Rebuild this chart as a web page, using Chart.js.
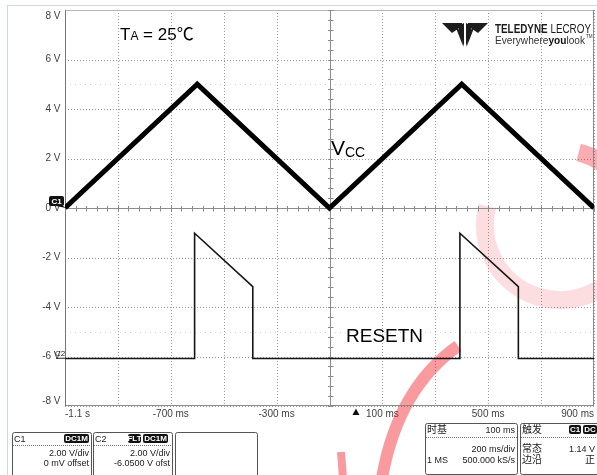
<!DOCTYPE html>
<html>
<head>
<meta charset="utf-8">
<title>VCC / RESETN</title>
<script src="https://cdn.jsdelivr.net/npm/chart.js@4.4.0/dist/chart.umd.min.js"></script>
<style>
  html, body { margin: 0; padding: 0; background: #fff; }
  #wrap { width: 597px; height: 475px; position: relative; }
</style>
</head>
<body>
<div id="wrap"><canvas id="scope" width="597" height="475"></canvas></div>
<script>
// Tempo em ms relativo ao trigger
const vccTime = [-1100, -600, -100, 400, 900];
const vccVolts = [0.0, 5.0, 0.0, 5.0, 0.0];

// RESETN (C2) como aparece na tela (offset -6.05 V ja aplicado)
const resetTime = [-1100, -610, -610, -390, -390, 393, 393, 614, 614, 900];
const resetVolts = [-6.08, -6.08, -1.02, -3.18, -6.08, -6.08, -1.02, -3.18, -6.08, -6.08];

const yTickVolts = [8, 6, 4, 2, 0, -2, -4, -6, -8];
const xLabelTimes = [-1100, -700, -300, 100, 500, 900];

const sans = '"Liberation Sans", Arial, "Noto Sans CJK SC", sans-serif';
const cjk = '"Noto Sans CJK SC", "Liberation Sans", sans-serif';

function fmtTime(v) {
    if (Math.abs(v) >= 1000) return (v / 1000).toFixed(1) + ' s';
    return v + ' ms';
}

function line(ctx, x1, y1, x2, y2) {
    ctx.beginPath();
    ctx.moveTo(x1, y1);
    ctx.lineTo(x2, y2);
    ctx.stroke();
}

function roundRect(ctx, x, y, w, h, r) {
    ctx.beginPath();
    ctx.moveTo(x + r, y);
    ctx.lineTo(x + w - r, y);
    ctx.quadraticCurveTo(x + w, y, x + w, y + r);
    ctx.lineTo(x + w, y + h - r);
    ctx.quadraticCurveTo(x + w, y + h, x + w - r, y + h);
    ctx.lineTo(x + r, y + h);
    ctx.quadraticCurveTo(x, y + h, x, y + h - r);
    ctx.lineTo(x, y + r);
    ctx.quadraticCurveTo(x, y, x + r, y);
    ctx.closePath();
}

function badge(ctx, x, y, w, h, text) {
    ctx.fillStyle = '#111';
    roundRect(ctx, x, y, w, h, 2);
    ctx.fill();
    ctx.fillStyle = '#fff';
    ctx.font = 'bold 8px ' + sans;
    ctx.textAlign = 'center';
    ctx.textBaseline = 'middle';
    ctx.fillText(text, x + w / 2, y + h / 2 + 0.5);
}

function infoBox(ctx, x, y, w, h) {
    ctx.fillStyle = '#fff';
    ctx.fillRect(x, y, w, h);
    ctx.strokeStyle = '#555';
    ctx.lineWidth = 1;
    roundRect(ctx, x + 0.5, y + 0.5, w, h, 2);
    ctx.stroke();
}

function dotted(ctx, x1, x2, yy) {
    ctx.save();
    ctx.strokeStyle = '#777';
    ctx.setLineDash([1, 1]);
    line(ctx, x1, yy + 0.5, x2, yy + 0.5);
    ctx.restore();
}

function txt(ctx, s, x, yy, align, font) {
    ctx.font = font || ('9px ' + sans);
    ctx.fillStyle = '#1a1a1a';
    ctx.textAlign = align;
    ctx.textBaseline = 'alphabetic';
    ctx.fillText(s, x, yy);
}

// fundo: moldura, grade pontilhada, marca d'agua, eixos centrais
const scopeBack = {
    id: 'scopeBack',
    beforeDraw(chart) {
        const ctx = chart.ctx;
        ctx.save();
        ctx.fillStyle = '#fff';
        ctx.fillRect(0, 0, chart.width, chart.height);
        ctx.strokeStyle = '#cfd9e4';
        ctx.lineWidth = 1;
        line(ctx, 7.5, 5, 7.5, chart.height);
        line(ctx, 7, 5.5, chart.width, 5.5);
        ctx.restore();
    },
    beforeDatasetsDraw(chart) {
        const { ctx, chartArea: a, scales: { x, y } } = chart;
        ctx.save();

        // grade pontilhada a partir dos ticks das escalas
        ctx.strokeStyle = '#9a9a9a';
        ctx.lineWidth = 1;
        ctx.setLineDash([1, 2]);
        x.ticks.forEach(t => {
            const px = Math.round(x.getPixelForValue(t.value)) + 0.5;
            line(ctx, px, a.top, px, a.bottom);
        });
        y.ticks.forEach(t => {
            const py = Math.round(y.getPixelForValue(t.value)) + 0.5;
            line(ctx, a.left, py, a.right, py);
        });

        // linhas pontilhadas fracas
        ctx.strokeStyle = '#d6d6d6';
        ctx.setLineDash([1, 4]);
        [5, -5].forEach(v => {
            const py = Math.round(y.getPixelForValue(v)) + 0.5;
            line(ctx, a.left, py, a.right, py);
        });
        ctx.setLineDash([]);

        // marca d'agua vermelha
        ctx.lineCap = 'butt';
        ctx.strokeStyle = 'rgba(240, 50, 60, 0.16)';
        ctx.lineWidth = 18;
        ctx.beginPath();
        ctx.arc(560, 225, 75, -0.15 * Math.PI, 1.08 * Math.PI);
        ctx.stroke();
        ctx.strokeStyle = 'rgba(240, 40, 50, 0.38)';
        ctx.beginPath();
        ctx.arc(560, 225, 75, -0.42 * Math.PI, -0.15 * Math.PI);
        ctx.stroke();
        ctx.strokeStyle = 'rgba(240, 30, 40, 0.45)';
        ctx.lineWidth = 12;
        ctx.beginPath();
        ctx.moveTo(458, 346);
        ctx.quadraticCurveTo(398, 388, 382, 478);
        ctx.stroke();
        ctx.lineWidth = 8;
        line(ctx, 341, 452, 343, 478);

        // moldura da area do grafico
        ctx.lineWidth = 1;
        ctx.strokeStyle = '#b5b5b5';
        line(ctx, a.left, a.top + 0.5, a.right, a.top + 0.5);
        ctx.strokeStyle = '#8a8a8a';
        line(ctx, a.right - 0.5, a.top, a.right - 0.5, a.bottom);
        line(ctx, a.left, a.bottom - 0.5, a.right, a.bottom - 0.5);
        ctx.strokeStyle = '#777';
        line(ctx, a.left + 0.5, a.top, a.left + 0.5, a.bottom);

        // eixos centrais com marcas
        const cx = Math.round(x.getPixelForValue(-100)) + 0.5;
        const cy = Math.round(y.getPixelForValue(0)) + 0.5;
        ctx.strokeStyle = '#8c8c8c';
        line(ctx, a.left, cy, a.right, cy);
        line(ctx, cx, a.top, cx, a.bottom);
        for (let t = -1100; t <= 900; t += 40) {
            const px = Math.round(x.getPixelForValue(t)) + 0.5;
            line(ctx, px, cy - 2.5, px, cy + 3);
        }
        for (let k = -20; k <= 20; k++) {
            const py = Math.round(y.getPixelForValue(k * 0.4)) + 0.5;
            line(ctx, cx - 2.5, py, cx + 3, py);
        }
        ctx.restore();
    },
    afterDatasetsDraw(chart) {
        const { ctx, chartArea: a, scales: { x, y } } = chart;
        ctx.save();

        // rotulos do eixo y
        ctx.font = '10px ' + sans;
        ctx.fillStyle = '#404040';
        ctx.textAlign = 'right';
        ctx.textBaseline = 'middle';
        yTickVolts.forEach(v => {
            let py = y.getPixelForValue(v);
            py = Math.min(Math.max(py, a.top + 6), a.bottom - 5);
            ctx.fillText(v + ' V', 60.5, py);
        });

        // marcador C1
        const c1y = y.getPixelForValue(0);
        ctx.fillStyle = '#111';
        roundRect(ctx, 49, c1y - 12, 15, 10, 2);
        ctx.fill();
        ctx.beginPath();
        ctx.moveTo(59, c1y - 5);
        ctx.lineTo(66, c1y);
        ctx.lineTo(56, c1y - 2);
        ctx.closePath();
        ctx.fill();
        ctx.fillStyle = '#fff';
        ctx.font = 'bold 8px ' + sans;
        ctx.textAlign = 'center';
        ctx.fillText('C1', 56.5, c1y - 6.5);

        // marcador C2
        const c2y = y.getPixelForValue(-6.05);
        ctx.fillStyle = '#222';
        ctx.font = '8px ' + sans;
        ctx.textAlign = 'left';
        ctx.textBaseline = 'alphabetic';
        ctx.fillText('C2', 55, c2y - 2);
        ctx.strokeStyle = '#222';
        ctx.lineWidth = 1;
        line(ctx, 56, c2y + 0.5, 66, c2y + 0.5);

        // marcador do trigger
        const tx = x.getPixelForValue(0);
        ctx.fillStyle = '#111';
        ctx.beginPath();
        ctx.moveTo(tx - 3.5, a.bottom + 9);
        ctx.lineTo(tx + 3.5, a.bottom + 9);
        ctx.lineTo(tx, a.bottom + 2.5);
        ctx.closePath();
        ctx.fill();

        // anotacoes
        ctx.fillStyle = '#000';
        ctx.textAlign = 'left';
        ctx.textBaseline = 'alphabetic';
        ctx.font = '17px ' + sans;
        ctx.fillText('T', 120, 40);
        let w = ctx.measureText('T').width;
        ctx.font = '12px ' + sans;
        ctx.fillText('A', 120 + w, 40);
        w += ctx.measureText('A').width;
        ctx.font = '17px ' + sans;
        ctx.fillText(' = 25\u2103', 120 + w, 40);

        ctx.font = '21px ' + sans;
        ctx.fillText('V', 331, 155);
        ctx.font = '14px ' + sans;
        ctx.fillText('CC', 345, 157);

        ctx.font = '19px ' + sans;
        ctx.fillText('RESETN', 346, 342);

        // logotipo
        ctx.fillStyle = '#1c1c1c';
        const poly = pts => {
            ctx.beginPath();
            ctx.moveTo(pts[0][0], pts[0][1]);
            pts.slice(1).forEach(p => ctx.lineTo(p[0], p[1]));
            ctx.closePath();
            ctx.fill();
        };
        poly([[442, 23], [462, 23], [462, 26], [452, 33]]);
        poly([[488, 23], [468, 23], [468, 26], [478, 33]]);
        poly([[458, 26], [464, 23], [464, 47]]);
        poly([[472, 26], [466, 23], [466, 47]]);
        poly([[456, 28], [462, 31], [463, 46]]);
        poly([[474, 28], [468, 31], [467, 46]]);

        ctx.save();
        ctx.translate(495, 33);
        ctx.font = 'bold 13px ' + sans;
        const w1 = ctx.measureText('TELEDYNE ').width;
        ctx.font = '13px ' + sans;
        const w2 = ctx.measureText('LECROY').width;
        ctx.scale(96 / (w1 + w2), 1);
        ctx.font = 'bold 13px ' + sans;
        ctx.fillText('TELEDYNE ', 0, 0);
        ctx.font = '13px ' + sans;
        ctx.fillText('LECROY', w1, 0);
        ctx.restore();

        ctx.save();
        ctx.translate(495, 44);
        ctx.fillStyle = '#333';
        ctx.font = '11px ' + sans;
        const e1 = ctx.measureText('Everywhere').width;
        ctx.font = 'bold 11px ' + sans;
        const e2 = ctx.measureText('you').width;
        ctx.font = '11px ' + sans;
        const e3 = ctx.measureText('look').width;
        ctx.scale(90 / (e1 + e2 + e3), 1);
        ctx.fillText('Everywhere', 0, 0);
        ctx.font = 'bold 11px ' + sans;
        ctx.fillStyle = '#111';
        ctx.fillText('you', e1, 0);
        ctx.font = '11px ' + sans;
        ctx.fillStyle = '#333';
        ctx.fillText('look', e1 + e2, 0);
        ctx.font = '5px ' + sans;
        ctx.fillText('TM', e1 + e2 + e3 + 1, -6);
        ctx.restore();

        // caixas de informacao
        infoBox(ctx, 12, 432, 79, 46);
        txt(ctx, 'C1', 14, 442, 'left');
        badge(ctx, 64, 434, 25, 9, 'DC1M');
        dotted(ctx, 13, 91, 445);
        txt(ctx, '2.00 V/div', 89, 456, 'right');
        txt(ctx, '0 mV offset', 89, 466, 'right');

        infoBox(ctx, 93, 432, 79, 46);
        txt(ctx, 'C2', 95, 442, 'left');
        badge(ctx, 128, 434, 13, 9, 'FLT');
        badge(ctx, 143, 434, 25, 9, 'DC1M');
        dotted(ctx, 94, 172, 445);
        txt(ctx, '2.00 V/div', 170, 456, 'right');
        txt(ctx, '-6.0500 V ofst', 170, 466, 'right');

        infoBox(ctx, 175, 432, 82, 46);

        infoBox(ctx, 425, 423, 92, 51);
        txt(ctx, '\u65f6\u57fa', 427, 433, 'left', '10px ' + cjk);
        txt(ctx, '100 ms', 515, 433, 'right');
        dotted(ctx, 426, 517, 437);
        txt(ctx, '200 ms/div', 515, 452, 'right');
        txt(ctx, '1 MS', 427, 463, 'left');
        txt(ctx, '500.000 kS/s', 515, 463, 'right');

        infoBox(ctx, 520, 423, 82, 51);
        txt(ctx, '\u89e6\u53d1', 522, 433, 'left', '10px ' + cjk);
        badge(ctx, 569, 425, 12, 9, 'C1');
        badge(ctx, 583, 425, 14, 9, 'DC');
        dotted(ctx, 521, 597, 437);
        txt(ctx, '\u5e38\u6001', 522, 452, 'left', '10px ' + cjk);
        txt(ctx, '1.14 V', 595, 452, 'right');
        txt(ctx, '\u8fb9\u6cbf', 522, 463, 'left', '10px ' + cjk);
        txt(ctx, '\u6b63', 595, 463, 'right', '10px ' + cjk);

        ctx.restore();
    }
};

document.addEventListener('DOMContentLoaded', () => {
    if (typeof Chart === 'undefined') {
        console.error('Chart.js nao carregou');
        return;
    }

    const vccData = vccTime.map((t, i) => ({ x: t, y: vccVolts[i] }));
    const resetData = resetTime.map((t, i) => ({ x: t, y: resetVolts[i] }));

    new Chart(document.getElementById('scope'), {
        type: 'line',
        data: {
            datasets: [
                {
                    label: 'VCC',
                    data: vccData,
                    borderColor: '#000',
                    borderWidth: 5,
                    pointRadius: 0,
                    tension: 0,
                    borderJoinStyle: 'miter'
                },
                {
                    label: 'RESETN',
                    data: resetData,
                    borderColor: '#161616',
                    borderWidth: 1.6,
                    pointRadius: 0,
                    tension: 0
                }
            ]
        },
        options: {
            responsive: false,
            animation: false,
            devicePixelRatio: 1,
            layout: { padding: { left: 0, right: 3, top: 10, bottom: 49 } },
            plugins: {
                legend: { display: false },
                tooltip: { enabled: false }
            },
            scales: {
                x: {
                    type: 'linear',
                    min: -1100,
                    max: 900,
                    ticks: {
                        stepSize: 200,
                        align: 'inner',
                        autoSkip: false,
                        maxRotation: 0,
                        padding: 2,
                        color: '#404040',
                        font: { family: sans, size: 10 },
                        callback: v => xLabelTimes.includes(v) ? fmtTime(v) : ''
                    },
                    grid: { display: false, drawTicks: false },
                    border: { display: false },
                    afterFit: s => { s.height = 20; }
                },
                y: {
                    min: -8,
                    max: 8,
                    ticks: { stepSize: 2, display: false },
                    grid: { display: false, drawTicks: false },
                    border: { display: false },
                    afterFit: s => { s.width = 65; }
                }
            }
        },
        plugins: [scopeBack]
    });
});
</script>
</body>
</html>
